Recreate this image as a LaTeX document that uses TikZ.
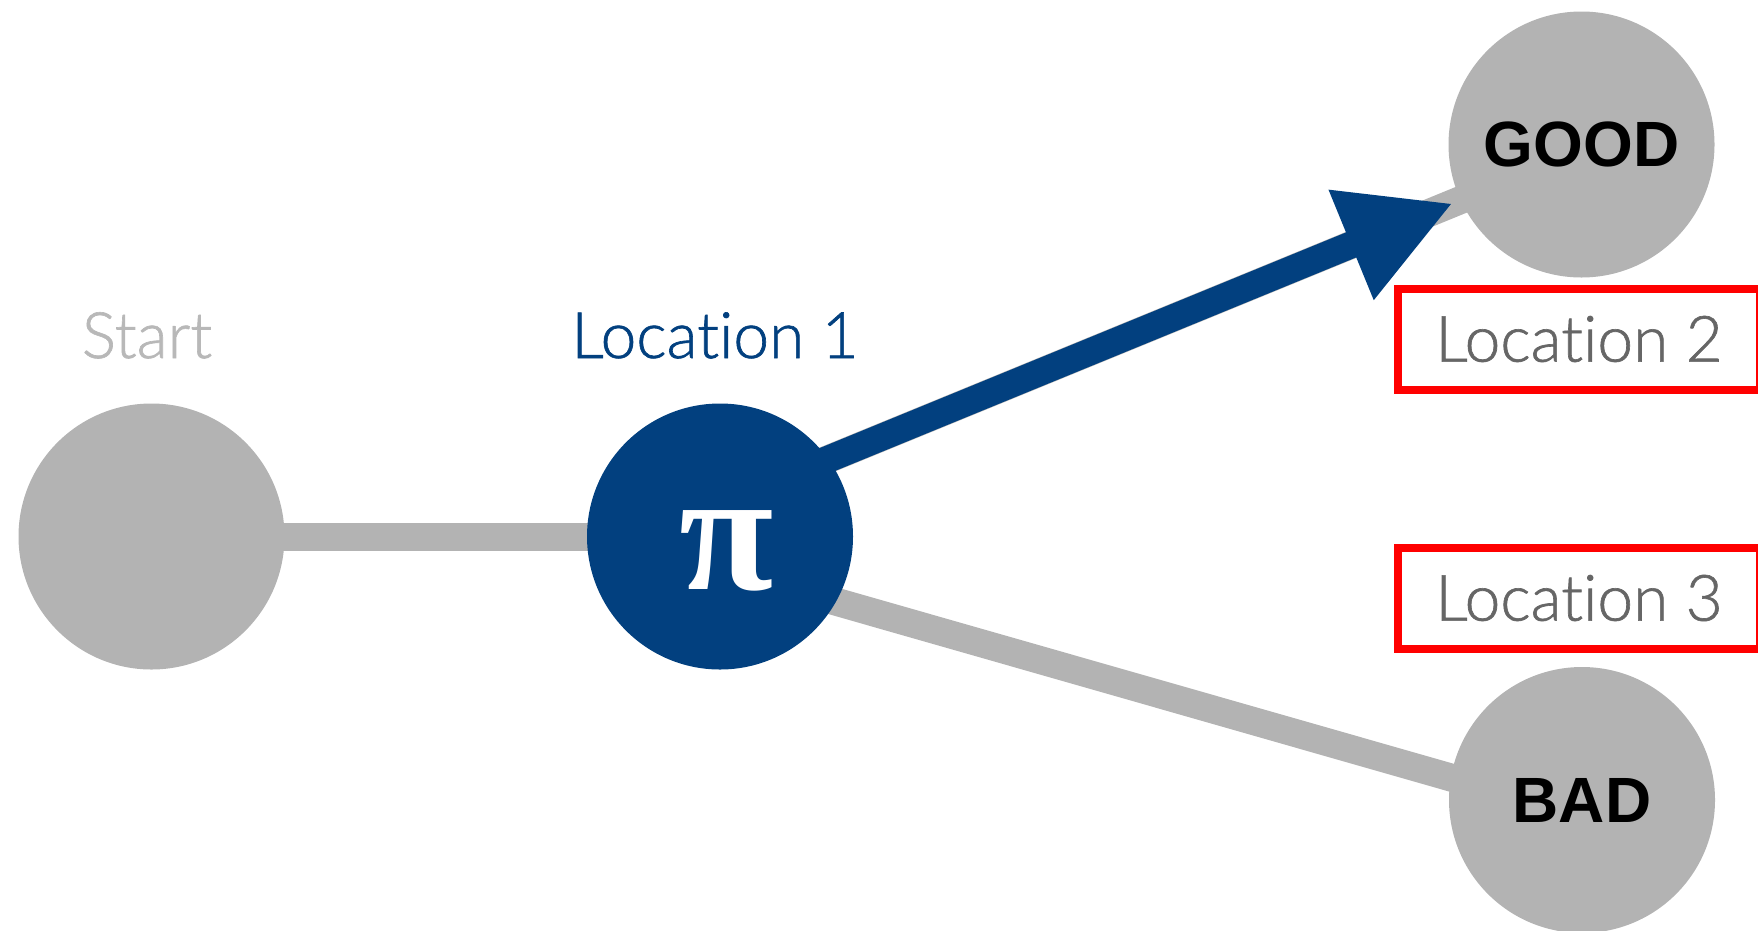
\documentclass[tikz,border=0pt]{standalone}
\usepackage{fontspec}
\setmainfont{Liberation Sans}
\newfontfamily\lightfont{Lato Light}[Ligatures={NoCommon},FakeBold=1]
\newfontfamily\piserif{Liberation Serif}
\usetikzlibrary{arrows.meta,calc,backgrounds}
\definecolor{navy}{HTML}{02407F}
\definecolor{nodegrey}{HTML}{B3B3B3}
\definecolor{startgrey}{HTML}{B8B8B8}
\definecolor{labgrey}{HTML}{666666}
\newcommand{\bigpi}{{\piserif\bfseries\fontsize{172}{172}\selectfont π}}
\begin{document}
\begin{tikzpicture}[x=1pt,y=-1pt,
  state/.style={circle,fill=nodegrey,minimum size=266pt,inner sep=0pt},
  active/.style={circle,fill=navy,minimum size=266pt,inner sep=0pt},
  endtext/.style={font={\fontsize{64}{70}\selectfont\bfseries},text=black},
  headtext/.style={font={\fontsize{64}{70}\selectfont\lightfont},inner sep=0pt,anchor=base},
  redbox/.style={draw=red,line width=8pt,minimum width=362pt,minimum height=101pt,inner sep=0pt,
    font={\fontsize{64}{70}\selectfont\lightfont},text=labgrey},
  greyline/.style={draw=nodegrey,line width=28pt},
  bluearrow/.style={draw=navy,line width=27pt,-{Triangle[length=110pt,width=111pt]}}
]
\useasboundingbox (0,0) rectangle (1758,930);
\node[state] (start) at (151.5,536.5) {};
\node[active] (pi) at (720,536.5) {};
\node[inner sep=0pt,text=white] (pisym) at (726.5,551) {\bigpi};
\node[state,endtext] (good) at (1581.5,144.5) {GOOD};
\node[state,endtext] (bad) at (1582,800) {BAD};
\node[headtext,text=startgrey] (startlab) at (147,358) {Start};
\node[headtext,text=navy] (loc1) at (715,358) {Location 1};
\node[redbox] (loc2) at (1579,339) {Location 2};
\node[redbox] (loc3) at (1579,598) {Location 3};
\coordinate (piup) at ($(pi.center)+(0,-33)$);
\coordinate (goodin) at ($(good.center)+(0,6)$);
\begin{scope}[on background layer]
  \draw[greyline] (start.center) -- (pi.center);
  \draw[greyline] (piup) -- (goodin);
  \draw[greyline] ($(pi.center)+(0,32)$) -- ($(bad.center)+(0,15)$);
\end{scope}
\draw[bluearrow,shorten <=100pt,shorten >=139pt] (piup) -- (goodin);
\end{tikzpicture}
\end{document}
